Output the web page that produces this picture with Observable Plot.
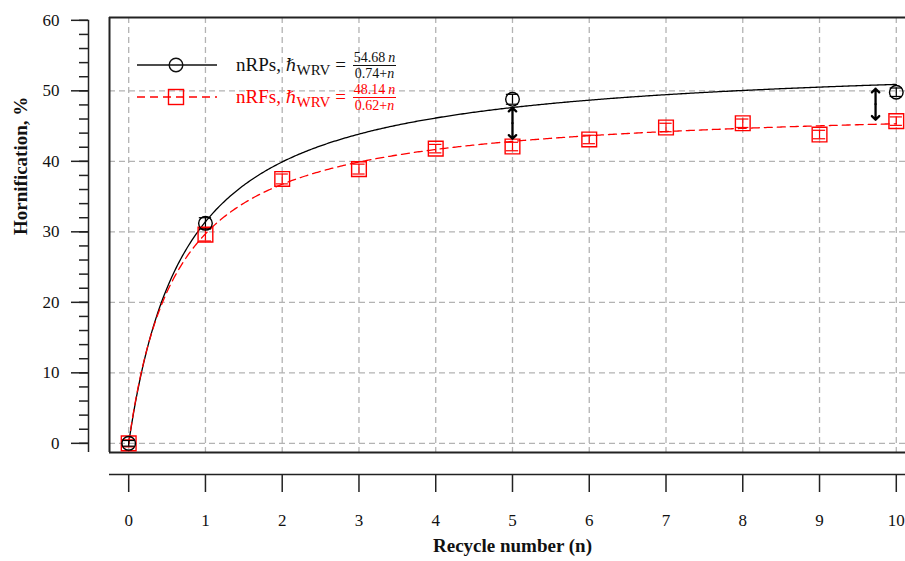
<!DOCTYPE html>
<html><head><meta charset="utf-8">
<script src="https://cdn.jsdelivr.net/npm/d3@7"></script>
<script src="https://cdn.jsdelivr.net/npm/@observablehq/plot@0.6"></script>
<style>
body{margin:0;background:#fff;}
#wrap{position:relative;width:905px;height:561px;font-family:"Liberation Serif","DejaVu Serif",serif;}
.lrow{position:absolute;left:137px;height:30px;display:flex;align-items:center;font-size:19px;}
.lrow svg{margin-right:19px;}
.frac{display:inline-flex;flex-direction:column;align-items:center;font-size:14px;line-height:15px;margin-left:7px;}
.frac .num{padding:0 1px;border-bottom:1px solid currentColor;}
.hb{font-family:"DejaVu Serif",serif;font-style:italic;font-size:17px;}
sub{font-size:15px;vertical-align:-4px;line-height:0;}
</style></head><body><div id="wrap"></div>
<script>
// ---- data ----
const xTicks = [0,1,2,3,4,5,6,7,8,9,10];
const yTicks = [0,10,20,30,40,50,60];
const yMinorTicks = [0,2,4,6,8,10,12,14,16,18,20,22,24,26,28,30,32,34,36,38,40,42,44,46,48,50,52,54,56,58,60];
const yGrid = [0,10,20,30,40,50];

const rpsCycles = [0,1,5,10];
const rpsValues = [0,31.2,48.8,49.8];
const rpsErrors = [0.4,0.8,0.7,0.6];

const rfsCycles = [0,1,2,3,4,5,6,7,8,9,10];
const rfsValues = [0,29.6,37.5,38.9,41.8,42.1,43.1,44.8,45.4,43.8,45.7];
const rfsErrors = [0.5,0.9,0.7,0.7,0.6,0.6,0.6,0.6,0.6,0.6,0.6];

// fitted model h = a*n/(b+n), parameters from the legend
const fitNames = ["nRPs","nRFs"];
const fitA = [54.68, 48.14];
const fitB = [0.74, 0.62];

const arrowX = [5, 9.73];
const arrowTop = [47.6, 50.3];
const arrowBottom = [43.2, 45.9];

// ---- build tables ----
const rps = rpsCycles.map((n,i)=>({n, h:rpsValues[i], e:rpsErrors[i]}));
const rfs = rfsCycles.map((n,i)=>({n, h:rfsValues[i], e:rfsErrors[i]}));
const grid = d3.range(0, 10.0001, 0.02);
const curve = k => grid.map(n=>({n, h: fitA[k]*n/(fitB[k]+n)}));
const arrows = arrowX.map((x,i)=>({x, top:arrowTop[i], bottom:arrowBottom[i], mid:(arrowTop[i]+arrowBottom[i])/2}));

const xDom = [-0.25, 10.12];
const yDom = [-1.3, 60.4];
const gridStyle = {stroke:"#b3b3b3", strokeDasharray:"6,4", strokeWidth:1.3};

const chart = Plot.plot({
  width:905, height:561,
  marginLeft:109, marginRight:0, marginTop:17, marginBottom:109,
  x:{domain:xDom, axis:null},
  y:{domain:yDom, axis:null},
  style:{fontFamily:"Liberation Serif, DejaVu Serif, serif", fontSize:"16px", color:"#111", background:"transparent", overflow:"visible"},
  marks:[
    Plot.ruleX(xTicks, {x:d=>d, ...gridStyle}),
    Plot.ruleY(yGrid, {y:d=>d, ...gridStyle}),
    // frame (left, top, bottom)
    Plot.ruleX([xDom[0]], {x:d=>d, stroke:"#222", strokeWidth:2}),
    Plot.ruleY([yDom[0], yDom[1]], {y:d=>d, stroke:"#222", strokeWidth:2}),
    // detached y axis
    Plot.ruleX([xDom[0]], {x:d=>d, y1:yDom[0], y2:60, dx:-21, stroke:"#222", strokeWidth:1.5}),
    Plot.axisY(yMinorTicks, {tickSize:9, dx:-21, tickFormat:()=>"", stroke:"#222", strokeWidth:1.5, label:null}),
    Plot.axisY(yTicks, {tickSize:17, dx:-21, tickPadding:12, fontSize:17, stroke:"#222", strokeWidth:1.5, label:null}),
    // detached x axis
    Plot.ruleY([yDom[0]], {y:d=>d, dy:22, stroke:"#222", strokeWidth:1.5}),
    Plot.axisX(xTicks, {tickSize:18, dy:22, tickPadding:21, fontSize:17, stroke:"#222", strokeWidth:1.5, label:null}),
    Plot.text(["Recycle number (n)"], {frameAnchor:"bottom", dx:5, dy:99, fontWeight:"bold", fontSize:19}),
    Plot.text(["Hornification, %"], {frameAnchor:"left", dx:-89, rotate:-90, fontWeight:"bold", fontSize:19}),
    // fitted curves
    Plot.line(curve(0), {x:"n", y:"h", stroke:"#000", strokeWidth:1.3}),
    Plot.line(curve(1), {x:"n", y:"h", stroke:"#ff0000", strokeWidth:1.3, strokeDasharray:"8,5"}),
    // error bars
    Plot.ruleX(rfs, {x:"n", y1:d=>d.h-d.e, y2:d=>d.h+d.e, stroke:"#ff0000", strokeWidth:1.2}),
    Plot.ruleY(rfs, {y:d=>d.h-d.e, x1:d=>d.n-0.08, x2:d=>d.n+0.08, stroke:"#ff0000", strokeWidth:1.2}),
    Plot.ruleY(rfs, {y:d=>d.h+d.e, x1:d=>d.n-0.08, x2:d=>d.n+0.08, stroke:"#ff0000", strokeWidth:1.2}),
    Plot.ruleX(rps, {x:"n", y1:d=>d.h-d.e, y2:d=>d.h+d.e, stroke:"#000", strokeWidth:1.2}),
    Plot.ruleY(rps, {y:d=>d.h-d.e, x1:d=>d.n-0.08, x2:d=>d.n+0.08, stroke:"#000", strokeWidth:1.2}),
    Plot.ruleY(rps, {y:d=>d.h+d.e, x1:d=>d.n-0.08, x2:d=>d.n+0.08, stroke:"#000", strokeWidth:1.2}),
    // markers
    Plot.dot(rfs, {x:"n", y:"h", symbol:"square", r:8.3, stroke:"#ff0000", strokeWidth:1.4, fill:"none"}),
    Plot.dot(rps, {x:"n", y:"h", r:6.8, stroke:"#000", strokeWidth:1.4, fill:"none"}),
    // difference arrows (double-headed)
    Plot.arrow(arrows, {x1:"x", y1:"mid", x2:"x", y2:"top", stroke:"#000", strokeWidth:2.3, headLength:11, headAngle:90}),
    Plot.arrow(arrows, {x1:"x", y1:"mid", x2:"x", y2:"bottom", stroke:"#000", strokeWidth:2.3, headLength:11, headAngle:90})
  ]
});

const wrap = document.getElementById("wrap");
wrap.appendChild(chart);

// legend (overlay inside the plot frame)
const legendRows = [
  {name:fitNames[0], a:fitA[0], b:fitB[0], color:"#111", top:50, dash:null, symbol:"circle"},
  {name:fitNames[1], a:fitA[1], b:fitB[1], color:"#ff0000", top:82, dash:"8,5", symbol:"square"}
];
for (const r of legendRows) {
  const div = document.createElement("div");
  div.className = "lrow";
  div.style.top = r.top + "px";
  div.style.color = r.color;
  const mark = r.symbol === "circle"
    ? `<circle cx="39" cy="12" r="6.8" fill="none" stroke="${r.color}" stroke-width="1.4"/>`
    : `<rect x="31.5" y="4.5" width="15" height="15" fill="none" stroke="${r.color}" stroke-width="1.4"/>`;
  div.innerHTML =
    `<svg width="80" height="24"><line x1="0" x2="80" y1="12" y2="12" stroke="${r.color}" stroke-width="1.3" ${r.dash?`stroke-dasharray="${r.dash}"`:""}/>${mark}</svg>` +
    `<span>${r.name}, <span class="hb">ℏ</span><sub>WRV</sub> =</span>` +
    `<span class="frac"><span class="num">${r.a.toFixed(2)}&thinsp;<i>n</i></span><span class="den">${r.b.toFixed(2)}+<i>n</i></span></span>`;
  wrap.appendChild(div);
}
</script>
</body></html>
